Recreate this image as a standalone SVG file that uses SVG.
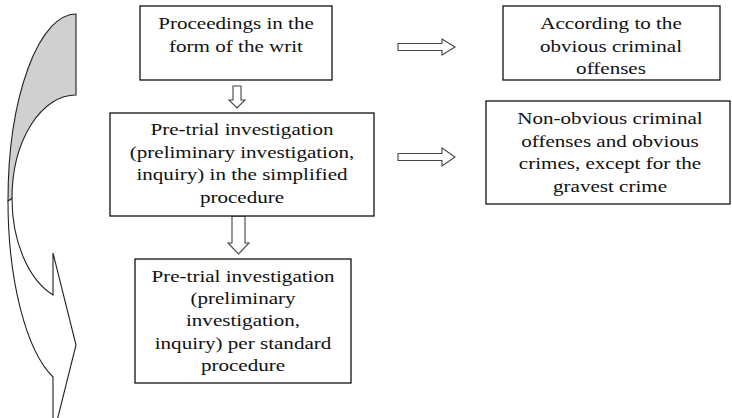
<svg xmlns="http://www.w3.org/2000/svg" width="732" height="418" viewBox="0 0 732 418">
<style>
.box{fill:#fff;stroke:#111;stroke-width:1.3}
.t{font-family:Liberation Serif,serif;font-size:17px;fill:#111;text-anchor:middle}
.blk{fill:#fff;stroke:#444;stroke-width:1.1}
.curve{stroke:#222;stroke-width:1.1}
</style>
<rect width="732" height="418" fill="#fff"/>
<g id="curved-arrow">
<path class="curve" fill="#d0d0d0" d="M76,14 A68,187 0 0 0 8,201 L12,198.5 A64,103.5 0 0 1 76,95 Z"/>
<path class="curve" fill="#fff" d="M12,198.5 A64,103.5 0 0 0 53,295 L53,253 L76,345 L53,437 L53,377 A68,187 0 0 1 8,201 Z"/>
</g>
<g id="connectors">
<polygon class="blk" points="398,43.5 442,43.5 442,39 455,47 442,55 442,50.5 398,50.5"/>
<polygon class="blk" points="398,153.5 442,153.5 442,148 455,157 442,166 442,160.5 398,160.5"/>
<polygon class="blk" points="233,86 241,86 241,100 245,100 237,108 229,100 233,100"/>
<polygon class="blk" points="232,216 245,216 245,243 249,243 238.5,254 228,243 232,243"/>
</g>
<g id="node1">
<rect class="box" x="140" y="6" width="192" height="74"/>
<text class="t" font-family="Liberation Serif" transform="translate(236,29) scale(1.24,1)">Proceedings in the</text>
<text class="t" font-family="Liberation Serif" transform="translate(236,52) scale(1.24,1)">form of the writ</text>
</g>
<g id="node2">
<rect class="box" x="110" y="113" width="264" height="103"/>
<text class="t" transform="translate(242,135) scale(1.24,1)">Pre-trial investigation</text>
<text class="t" transform="translate(242,157.5) scale(1.24,1)">(preliminary investigation,</text>
<text class="t" transform="translate(242,180) scale(1.24,1)">inquiry) in the simplified</text>
<text class="t" transform="translate(242,202.5) scale(1.24,1)">procedure</text>
</g>
<g id="node3">
<rect class="box" x="503" y="6" width="217" height="74"/>
<text class="t" transform="translate(611,29) scale(1.24,1)">According to the</text>
<text class="t" transform="translate(611,51.5) scale(1.24,1)">obvious criminal</text>
<text class="t" transform="translate(611,74) scale(1.24,1)">offenses</text>
</g>
<g id="node4">
<rect class="box" x="486" y="101" width="244" height="103"/>
<text class="t" transform="translate(610,124) scale(1.24,1)">Non-obvious criminal</text>
<text class="t" transform="translate(610,146.5) scale(1.24,1)">offenses and obvious</text>
<text class="t" transform="translate(610,169) scale(1.24,1)">crimes, except for the</text>
<text class="t" transform="translate(610,191.5) scale(1.24,1)">gravest crime</text>
</g>
<g id="node5">
<rect class="box" x="135" y="259" width="216" height="124"/>
<text class="t" transform="translate(243,282) scale(1.24,1)">Pre-trial investigation</text>
<text class="t" transform="translate(243,304) scale(1.24,1)">(preliminary</text>
<text class="t" transform="translate(243,326) scale(1.24,1)">investigation,</text>
<text class="t" transform="translate(243,348.5) scale(1.24,1)">inquiry) per standard</text>
<text class="t" transform="translate(243,371) scale(1.24,1)">procedure</text>
</g>
</svg>
